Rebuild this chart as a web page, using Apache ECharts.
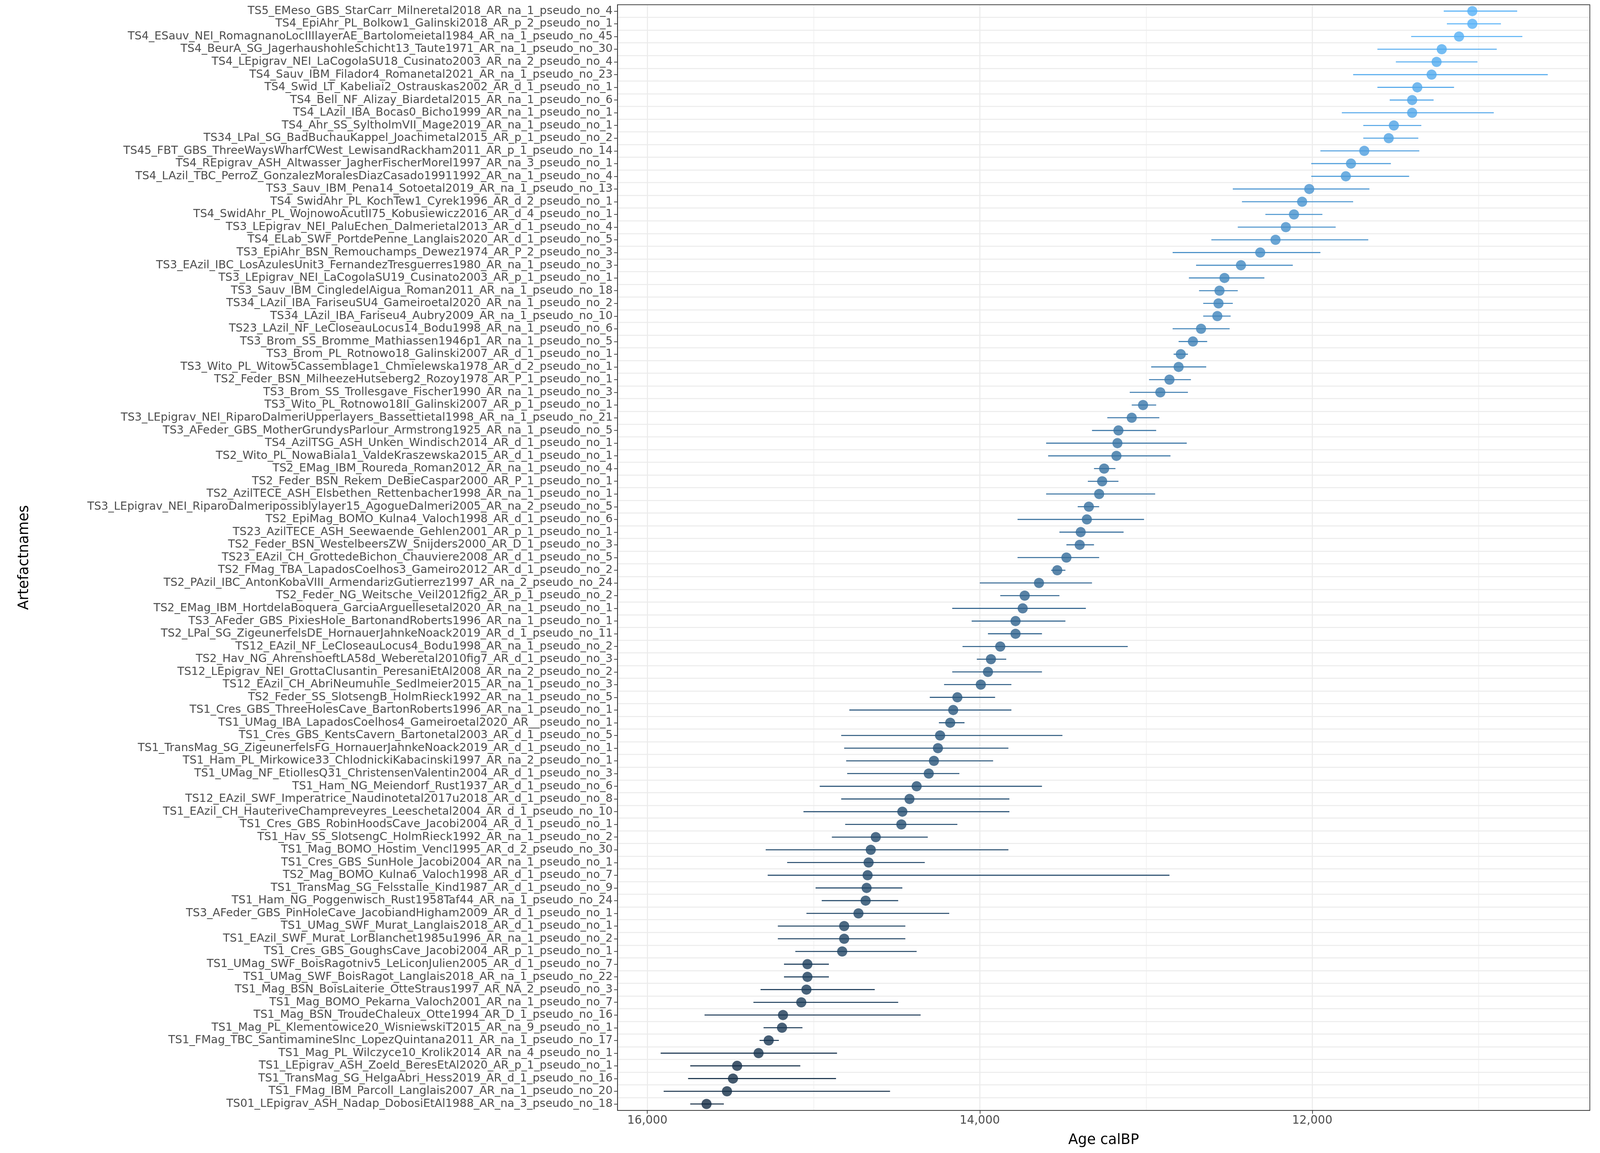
<!DOCTYPE html>
<html>
<head>
<meta charset="utf-8">
<script src="https://cdn.jsdelivr.net/npm/echarts@6/dist/echarts.min.js"></script>
<style>html,body{margin:0;padding:0;background:#fff;overflow:hidden}#chart{width:100vw;height:100vh}</style>
</head>
<body>
<div id="chart"></div>
<script>
// artefact names, top row first
const names = [
  'TS5_EMeso_GBS_StarCarr_Milneretal2018_AR_na_1_pseudo_no_4',
  'TS4_EpiAhr_PL_Bolkow1_Galinski2018_AR_p_2_pseudo_no_1',
  'TS4_ESauv_NEI_RomagnanoLocIIIlayerAE_Bartolomeietal1984_AR_na_1_pseudo_no_45',
  'TS4_BeurA_SG_JagerhaushohleSchicht13_Taute1971_AR_na_1_pseudo_no_30',
  'TS4_LEpigrav_NEI_LaCogolaSU18_Cusinato2003_AR_na_2_pseudo_no_4',
  'TS4_Sauv_IBM_Filador4_Romanetal2021_AR_na_1_pseudo_no_23',
  'TS4_Swid_LT_Kabeliai2_Ostrauskas2002_AR_d_1_pseudo_no_1',
  'TS4_Bell_NF_Alizay_Biardetal2015_AR_na_1_pseudo_no_6',
  'TS4_LAzil_IBA_Bocas0_Bicho1999_AR_na_1_pseudo_no_1',
  'TS4_Ahr_SS_SyltholmVII_Mage2019_AR_na_1_pseudo_no_1',
  'TS34_LPal_SG_BadBuchauKappel_Joachimetal2015_AR_p_1_pseudo_no_2',
  'TS45_FBT_GBS_ThreeWaysWharfCWest_LewisandRackham2011_AR_p_1_pseudo_no_14',
  'TS4_REpigrav_ASH_Altwasser_JagherFischerMorel1997_AR_na_3_pseudo_no_1',
  'TS4_LAzil_TBC_PerroZ_GonzalezMoralesDiazCasado19911992_AR_na_1_pseudo_no_4',
  'TS3_Sauv_IBM_Pena14_Sotoetal2019_AR_na_1_pseudo_no_13',
  'TS4_SwidAhr_PL_KochTew1_Cyrek1996_AR_d_2_pseudo_no_1',
  'TS4_SwidAhr_PL_WojnowoAcutII75_Kobusiewicz2016_AR_d_4_pseudo_no_1',
  'TS3_LEpigrav_NEI_PaluEchen_Dalmerietal2013_AR_d_1_pseudo_no_4',
  'TS4_ELab_SWF_PortdePenne_Langlais2020_AR_d_1_pseudo_no_5',
  'TS3_EpiAhr_BSN_Remouchamps_Dewez1974_AR_P_2_pseudo_no_3',
  'TS3_EAzil_IBC_LosAzulesUnit3_FernandezTresguerres1980_AR_na_1_pseudo_no_3',
  'TS3_LEpigrav_NEI_LaCogolaSU19_Cusinato2003_AR_p_1_pseudo_no_1',
  'TS3_Sauv_IBM_CingledelAigua_Roman2011_AR_na_1_pseudo_no_18',
  'TS34_LAzil_IBA_FariseuSU4_Gameiroetal2020_AR_na_1_pseudo_no_2',
  'TS34_LAzil_IBA_Fariseu4_Aubry2009_AR_na_1_pseudo_no_10',
  'TS23_LAzil_NF_LeCloseauLocus14_Bodu1998_AR_na_1_pseudo_no_6',
  'TS3_Brom_SS_Bromme_Mathiassen1946p1_AR_na_1_pseudo_no_5',
  'TS3_Brom_PL_Rotnowo18_Galinski2007_AR_d_1_pseudo_no_1',
  'TS3_Wito_PL_Witow5Cassemblage1_Chmielewska1978_AR_d_2_pseudo_no_1',
  'TS2_Feder_BSN_MilheezeHutseberg2_Rozoy1978_AR_P_1_pseudo_no_1',
  'TS3_Brom_SS_Trollesgave_Fischer1990_AR_na_1_pseudo_no_3',
  'TS3_Wito_PL_Rotnowo18II_Galinski2007_AR_p_1_pseudo_no_1',
  'TS3_LEpigrav_NEI_RiparoDalmeriUpperlayers_Bassettietal1998_AR_na_1_pseudo_no_21',
  'TS3_AFeder_GBS_MotherGrundysParlour_Armstrong1925_AR_na_1_pseudo_no_5',
  'TS4_AzilTSG_ASH_Unken_Windisch2014_AR_d_1_pseudo_no_1',
  'TS2_Wito_PL_NowaBiala1_ValdeKraszewska2015_AR_d_1_pseudo_no_1',
  'TS2_EMag_IBM_Roureda_Roman2012_AR_na_1_pseudo_no_4',
  'TS2_Feder_BSN_Rekem_DeBieCaspar2000_AR_P_1_pseudo_no_1',
  'TS2_AzilTECE_ASH_Elsbethen_Rettenbacher1998_AR_na_1_pseudo_no_1',
  'TS3_LEpigrav_NEI_RiparoDalmeripossiblylayer15_AgogueDalmeri2005_AR_na_2_pseudo_no_5',
  'TS2_EpiMag_BOMO_Kulna4_Valoch1998_AR_d_1_pseudo_no_6',
  'TS23_AzilTECE_ASH_Seewaende_Gehlen2001_AR_p_1_pseudo_no_1',
  'TS2_Feder_BSN_WestelbeersZW_Snijders2000_AR_D_1_pseudo_no_3',
  'TS23_EAzil_CH_GrottedeBichon_Chauviere2008_AR_d_1_pseudo_no_5',
  'TS2_FMag_TBA_LapadosCoelhos3_Gameiro2012_AR_d_1_pseudo_no_2',
  'TS2_PAzil_IBC_AntonKobaVIII_ArmendarizGutierrez1997_AR_na_2_pseudo_no_24',
  'TS2_Feder_NG_Weitsche_Veil2012fig2_AR_p_1_pseudo_no_2',
  'TS2_EMag_IBM_HortdelaBoquera_GarciaArguellesetal2020_AR_na_1_pseudo_no_1',
  'TS3_AFeder_GBS_PixiesHole_BartonandRoberts1996_AR_na_1_pseudo_no_1',
  'TS2_LPal_SG_ZigeunerfelsDE_HornauerJahnkeNoack2019_AR_d_1_pseudo_no_11',
  'TS12_EAzil_NF_LeCloseauLocus4_Bodu1998_AR_na_1_pseudo_no_2',
  'TS2_Hav_NG_AhrenshoeftLA58d_Weberetal2010fig7_AR_d_1_pseudo_no_3',
  'TS12_LEpigrav_NEI_GrottaClusantin_PeresaniEtAl2008_AR_na_2_pseudo_no_2',
  'TS12_EAzil_CH_AbriNeumuhle_Sedlmeier2015_AR_na_1_pseudo_no_3',
  'TS2_Feder_SS_SlotsengB_HolmRieck1992_AR_na_1_pseudo_no_5',
  'TS1_Cres_GBS_ThreeHolesCave_BartonRoberts1996_AR_na_1_pseudo_no_1',
  'TS1_UMag_IBA_LapadosCoelhos4_Gameiroetal2020_AR__pseudo_no_1',
  'TS1_Cres_GBS_KentsCavern_Bartonetal2003_AR_d_1_pseudo_no_5',
  'TS1_TransMag_SG_ZigeunerfelsFG_HornauerJahnkeNoack2019_AR_d_1_pseudo_no_1',
  'TS1_Ham_PL_Mirkowice33_ChlodnickiKabacinski1997_AR_na_2_pseudo_no_1',
  'TS1_UMag_NF_EtiollesQ31_ChristensenValentin2004_AR_d_1_pseudo_no_3',
  'TS1_Ham_NG_Meiendorf_Rust1937_AR_d_1_pseudo_no_6',
  'TS12_EAzil_SWF_Imperatrice_Naudinotetal2017u2018_AR_d_1_pseudo_no_8',
  'TS1_EAzil_CH_HauteriveChampreveyres_Leeschetal2004_AR_d_1_pseudo_no_10',
  'TS1_Cres_GBS_RobinHoodsCave_Jacobi2004_AR_d_1_pseudo_no_1',
  'TS1_Hav_SS_SlotsengC_HolmRieck1992_AR_na_1_pseudo_no_2',
  'TS1_Mag_BOMO_Hostim_Vencl1995_AR_d_2_pseudo_no_30',
  'TS1_Cres_GBS_SunHole_Jacobi2004_AR_na_1_pseudo_no_1',
  'TS2_Mag_BOMO_Kulna6_Valoch1998_AR_d_1_pseudo_no_7',
  'TS1_TransMag_SG_Felsstalle_Kind1987_AR_d_1_pseudo_no_9',
  'TS1_Ham_NG_Poggenwisch_Rust1958Taf44_AR_na_1_pseudo_no_24',
  'TS3_AFeder_GBS_PinHoleCave_JacobiandHigham2009_AR_d_1_pseudo_no_1',
  'TS1_UMag_SWF_Murat_Langlais2018_AR_d_1_pseudo_no_1',
  'TS1_EAzil_SWF_Murat_LorBlanchet1985u1996_AR_na_1_pseudo_no_2',
  'TS1_Cres_GBS_GoughsCave_Jacobi2004_AR_p_1_pseudo_no_1',
  'TS1_UMag_SWF_BoisRagotniv5_LeLiconJulien2005_AR_d_1_pseudo_no_7',
  'TS1_UMag_SWF_BoisRagot_Langlais2018_AR_na_1_pseudo_no_22',
  'TS1_Mag_BSN_BoisLaiterie_OtteStraus1997_AR_NA_2_pseudo_no_3',
  'TS1_Mag_BOMO_Pekarna_Valoch2001_AR_na_1_pseudo_no_7',
  'TS1_Mag_BSN_TroudeChaleux_Otte1994_AR_D_1_pseudo_no_16',
  'TS1_Mag_PL_Klementowice20_WisniewskiT2015_AR_na_9_pseudo_no_1',
  'TS1_FMag_TBC_SantimamineSlnc_LopezQuintana2011_AR_na_1_pseudo_no_17',
  'TS1_Mag_PL_Wilczyce10_Krolik2014_AR_na_4_pseudo_no_1',
  'TS1_LEpigrav_ASH_Zoeld_BeresEtAl2020_AR_p_1_pseudo_no_1',
  'TS1_TransMag_SG_HelgaAbri_Hess2019_AR_d_1_pseudo_no_16',
  'TS1_FMag_IBM_Parcoll_Langlais2007_AR_na_1_pseudo_no_20',
  'TS01_LEpigrav_ASH_Nadap_DobosiEtAl1988_AR_na_3_pseudo_no_18'
];

// median age calBP
const ages = [11037,11037,11117,11221,11252,11282,11368,11399,11399,11509,11540,11687,11767,11798,12018,12061,12110,12159,12221,12313,
  12429,12528,12558,12564,12571,12669,12718,12791,12804,12859,12914,13018,13086,13166,13172,13178,13252,13264,13282,13344,
  13356,13393,13399,13479,13534,13644,13730,13742,13785,13785,13877,13933,13951,13994,14135,14160,14178,14239,14252,14276,
  14307,14380,14423,14466,14472,14626,14656,14669,14675,14681,14687,14730,14816,14816,14828,15037,15037,15043,15074,15184,
  15190,15270,15331,15460,15485,15521,15644];
// older end of range
const ageOld = [11209,11190,11405,11608,11497,11754,11608,11534,11822,11693,11693,11951,12006,12006,12478,12423,12282,12448,12607,12840,
  12699,12742,12681,12656,12656,12840,12804,12834,12969,12982,13098,13086,13233,13325,13601,13589,13313,13350,13601,13411,
  13773,13521,13479,13773,13571,14000,13877,14166,14049,13951,14104,14018,14166,14215,14301,14785,14246,14834,14816,14804,
  14798,14963,14834,15061,14810,14890,15288,15159,15276,14988,14951,15043,15215,15215,15110,15178,15178,15319,15362,15656,
  15301,15325,15920,15742,15755,15902,15742];
// younger end of range
const ageYoung = [10767,10865,10736,10890,11006,10583,11147,11270,10908,11344,11362,11356,11527,11417,11656,11754,11939,11859,11663,11951,
  12117,12288,12448,12478,12491,12497,12632,12748,12638,12730,12748,12939,12920,12939,12755,12853,13184,13166,12945,13282,
  13012,13135,13313,13282,13485,13325,13521,13362,13485,13626,13110,13841,13626,13810,13908,13810,14092,13503,13828,13920,
  14123,13626,13822,13822,14135,14313,13828,14331,12859,14466,14491,14184,14448,14448,14380,14908,14908,14632,14491,14356,
  15067,15209,14859,15080,14865,14540,15540];

const majorTicks = [16000, 14000, 12000];
const gridLines = [16000, 15000, 14000, 13000, 12000, 11000];

const el = document.getElementById('chart');
const chart = echarts.init(el);
// scale everything from a 4724 px wide design to the real viewport
const s = el.clientWidth / 4724;
const H = el.clientHeight / s;
const font = 'DejaVu Sans';

const gl = 1823, gr = 30, gt = 14, gb = 126;

const pointData = names.map((n, i) => [ages[i], n]);
const barData = names.map((n, i) => [ages[i], ageOld[i], ageYoung[i], n]);

chart.setOption({
  backgroundColor: '#fff',
  animation: false,
  grid: { left: gl * s, right: gr * s, top: gt * s, bottom: gb * s },
  visualMap: {
    show: false, type: 'continuous', dimension: 0,
    min: 11037, max: 15644,
    inRange: { color: ['#56B1F7', '#132B43'] },
    seriesIndex: [0, 1]
  },
  xAxis: {
    type: 'value', inverse: true, min: 10330, max: 16180,
    name: 'Age calBP', nameLocation: 'middle', nameGap: 68 * s,
    nameTextStyle: { fontFamily: font, fontSize: 42 * s, color: '#000' },
    axisLine: { show: true, onZero: false, lineStyle: { color: '#333', width: 2 * s } },
    axisTick: { show: true, customValues: majorTicks, length: 10 * s, lineStyle: { color: '#333', width: 2 * s } },
    axisLabel: { customValues: majorTicks, fontFamily: font, fontSize: 34 * s, color: '#4d4d4d', margin: 14 * s },
    splitLine: { show: false }
  },
  yAxis: {
    type: 'category', data: names, inverse: true,
    name: 'Artefactnames', nameLocation: 'middle', nameGap: 1730 * s, nameRotate: 90,
    nameTextStyle: { fontFamily: font, fontSize: 42 * s, color: '#000' },
    axisLine: { show: true, lineStyle: { color: '#333', width: 2 * s } },
    axisTick: { show: true, alignWithLabel: true, length: 10 * s, lineStyle: { color: '#333', width: 2 * s } },
    axisLabel: { fontFamily: font, fontSize: 33 * s, color: '#4d4d4d', margin: 14 * s, interval: 0 },
    splitLine: { show: true, lineStyle: { color: '#ebebeb', width: 3 * s } }
  },
  series: [
    {
      type: 'custom',
      encode: { x: [1, 2], y: 3 },
      data: barData,
      z: 2,
      renderItem: (params, api) => {
        const a = api.coord([api.value(1), api.value(3)]);
        const b = api.coord([api.value(2), api.value(3)]);
        return {
          type: 'line',
          shape: { x1: a[0], y1: a[1], x2: b[0], y2: b[1] },
          style: { stroke: api.visual('color'), lineWidth: 3 * s }
        };
      }
    },
    {
      type: 'scatter', data: pointData, symbolSize: 30 * s, z: 3,
      markLine: {
        silent: true, symbol: 'none', label: { show: false }, z: 0,
        data: gridLines.map(v => ({
          xAxis: v,
          lineStyle: { color: '#ebebeb', width: (v % 2000 === 0 ? 3 : 1.5) * s, type: 'solid' }
        }))
      }
    }
  ],
  graphic: [{
    type: 'rect',
    shape: { x: gl * s, y: gt * s, width: (4724 - gl - gr) * s, height: (H - gt - gb) * s },
    style: { fill: 'none', stroke: '#333', lineWidth: 2 * s }, z: 100, silent: true
  }]
});
</script>
</body>
</html>
